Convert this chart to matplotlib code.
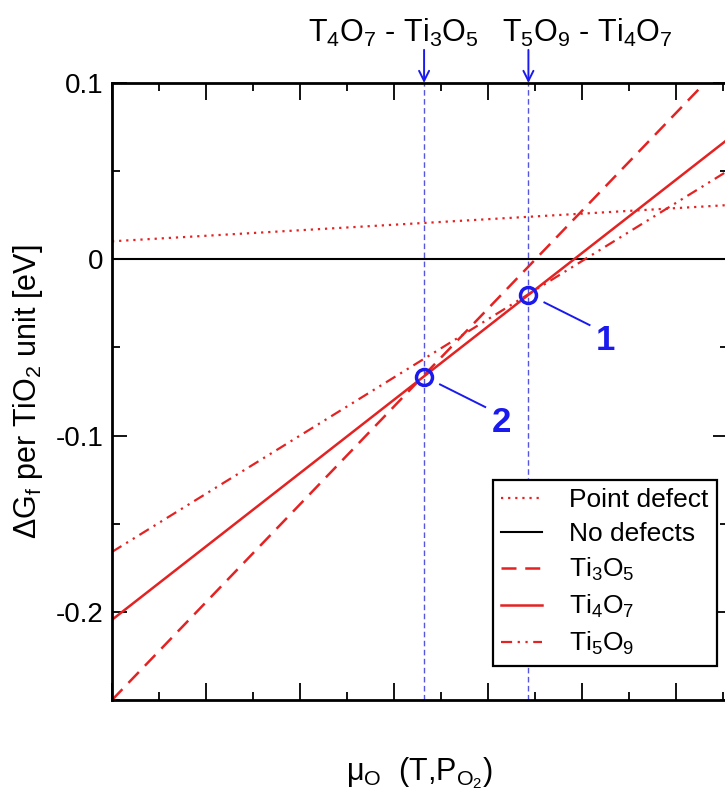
import numpy as np
import matplotlib
matplotlib.use("Agg")
import matplotlib.pyplot as plt
from matplotlib.ticker import MultipleLocator, FixedLocator, FixedFormatter

fam = "Liberation Sans"
plt.rcParams["font.family"] = [fam, "DejaVu Sans"]
plt.rcParams["mathtext.fontset"] = "custom"
plt.rcParams["mathtext.rm"] = fam
plt.rcParams["mathtext.it"] = fam
plt.rcParams["mathtext.bf"] = fam + ":bold"

# chemical potential range (arbitrary units, one major tick per unit)
mu = [0.0, 6.6]

# free energy of formation at the two ends of the range [eV per TiO2]
point_defect = [0.0102, 0.0309]
no_defects = [0.0, 0.0]
ti3o5 = [-0.25, 0.1163]
ti4o7 = [-0.2045, 0.0701]
ti5o9 = [-0.166, 0.0518]

# phase boundaries (crossing points)
cross_mu = [4.43, 3.32]
cross_g = [-0.020, -0.0665]
cross_lab = ["1", "2"]
bound_lab = [r"T$_4$O$_7$ - Ti$_3$O$_5$", r"T$_5$O$_9$ - Ti$_4$O$_7$"]
bound_mu = [3.32, 4.43]

red = "#e42222"
blue = "#1a1aee"

fig = plt.figure(figsize=(7.25, 7.95), dpi=100)
ax = fig.add_axes([112 / 725, 95 / 795, 616 / 725, 617 / 795])

ax.plot(mu, point_defect, color=red, lw=1.6, ls=(0, (1, 2.2)), label="Point defect")
ax.plot(mu, no_defects, color="black", lw=1.5, label="No defects")
ax.plot(mu, ti3o5, color=red, lw=1.8, ls=(0, (6, 3.5)), label=r"Ti$_3$O$_5$")
ax.plot(mu, ti4o7, color=red, lw=1.8, label=r"Ti$_4$O$_7$")
ax.plot(mu, ti5o9, color=red, lw=1.6, ls=(0, (5, 2.5, 1, 2.5, 1, 2.5)), label=r"Ti$_5$O$_9$")

for xb in bound_mu:
    ax.axvline(xb, color="#5555dd", lw=1.0, ls=(0, (4, 2.5)), zorder=1)
    ax.annotate("", xy=(xb, 0.1), xytext=(xb, 0.1188), annotation_clip=False,
                arrowprops=dict(arrowstyle="->", color=blue, lw=1.4,
                                mutation_scale=18, shrinkA=0, shrinkB=0))

ax.text(2.09, 0.1235, bound_lab[0], fontsize=22, ha="left", va="baseline")
ax.text(4.15, 0.1235, bound_lab[1], fontsize=22, ha="left", va="baseline")

ax.plot(cross_mu, cross_g, "o", mfc="none", mec=blue, mew=2.5, ms=11.5, zorder=5)
# leader lines and numbers
for xm, gm, lab in zip(cross_mu, cross_g, cross_lab):
    ax.plot([xm + 0.17, xm + 0.65], [gm - 0.0045, gm - 0.0173], color=blue, lw=1.4)
    ax.text(xm + 0.82, gm - 0.026, lab, color=blue, fontsize=25,
            fontweight="bold", ha="center", va="center")

ax.set_xlim(0, 616 / 94)
ax.set_ylim(-0.25, 0.1)

ax.xaxis.set_major_locator(MultipleLocator(1))
ax.xaxis.set_minor_locator(MultipleLocator(0.5))
ax.xaxis.set_major_formatter(FixedFormatter([]))
ax.yaxis.set_major_locator(FixedLocator([0.1, 0.0, -0.1, -0.2]))
ax.yaxis.set_major_formatter(FixedFormatter(["0.1", "0", "-0.1", "-0.2"]))
ax.yaxis.set_minor_locator(MultipleLocator(0.05))
ax.tick_params(which="both", direction="in", top=True, right=True, width=1.3)
ax.tick_params(which="major", length=11, labelsize=20, pad=6)
ax.tick_params(which="minor", length=5.5)
ax.tick_params(axis="x", which="major", length=12)
for s in ax.spines.values():
    s.set_linewidth(2.0)

ax.set_ylabel(r"ΔG$_\mathrm{f}$ per TiO$_2$ unit [eV]", fontsize=22, labelpad=8)
ax.set_xlabel(r"μ$_\mathrm{O}$  (T,P$_{\mathrm{O}_2}$)", fontsize=22, labelpad=34)

leg = ax.legend(loc="upper left", bbox_to_anchor=(0.618, 0.357), borderaxespad=0,
                fontsize=19, handlelength=1.55, handletextpad=1.0, labelspacing=0.37,
                fancybox=False, framealpha=1, edgecolor="black", borderpad=0.33)
leg.get_frame().set_linewidth(1.6)

fig.savefig("out.png", dpi=100)
